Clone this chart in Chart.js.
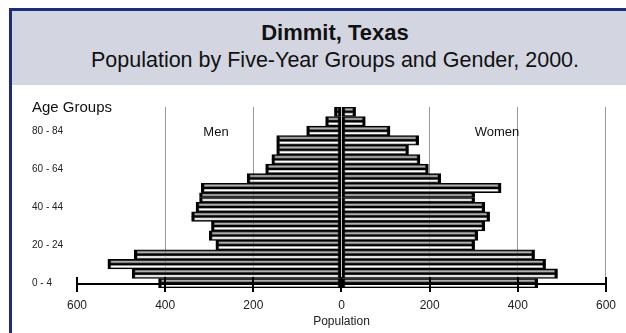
<!DOCTYPE html>
<html>
<head>
<meta charset="utf-8">
<title>Dimmit, Texas</title>
<script src="https://cdn.jsdelivr.net/npm/chart.js@4.4.1/dist/chart.umd.min.js"></script>
<style>
  body { margin: 0; width: 626px; height: 333px; overflow: hidden; background: #fff; position: relative;
         font-family: "Liberation Sans", Arial, sans-serif; color: #111; }
  #marco { position: absolute; left: 9px; top: 8px; width: 646px; height: 340px; border: 3px solid #1f2c7a; background: #fff; }
  #cabecera { position: absolute; left: 0; top: 0; width: 100%; height: 74px; background: #d3d5e1; }
  .linea { position: absolute; left: 0; width: 100%; text-align: center; line-height: 26px; }
  #titulo { top: 9px; font-size: 22px; font-weight: bold; }
  #subtitulo { top: 36px; font-size: 21.5px; }
  #caja { position: absolute; left: 12px; top: 85px; width: 614px; height: 248px; }
  .etiqueta { position: absolute; transform: translate(-50%, -50%); white-space: nowrap; font-size: 13px; }
  #edades { position: absolute; left: 32px; top: 98px; font-size: 15px; white-space: nowrap; }
</style>
</head>
<body>
<div id="marco">
  <div id="cabecera">
    <div class="linea" id="titulo">Dimmit, Texas</div>
    <div class="linea" id="subtitulo">Population by Five-Year Groups and Gender, 2000.</div>
  </div>
</div>
<div id="caja"><canvas id="grafico"></canvas></div>
<div id="edades">Age Groups</div>
<div class="etiqueta" style="left:216px; top:131px;">Men</div>
<div class="etiqueta" style="left:497px; top:131px;">Women</div>

<script>
// DATOS //
const grupos = ["0 - 4", "5 - 9", "10 - 14", "15 - 19", "20 - 24", "25 - 29", "30 - 34", "35 - 39", "40 - 44",
                "45 - 49", "50 - 54", "55 - 59", "60 - 64", "65 - 69", "70 - 74", "75 - 79", "80 - 84", "85 - 89", "90 +"];
const hombres = [415, 475, 530, 470, 285, 300, 295, 340, 330, 322, 318, 214, 172, 158, 147, 147, 79, 36, 16];
const mujeres = [445, 490, 463, 438, 302, 309, 325, 336, 325, 302, 362, 225, 197, 178, 152, 175, 110, 54, 32];
const ticksX = [-600, -400, -200, 0, 200, 400, 600];
const lineasX = [-400, -200, 200, 400, 600];

const graficoX = document.getElementById("grafico");
const gris = "rgba(130,130,130,0.65)";
const blanco = "rgba(255,255,255,0.55)";

Chart.defaults.font.family = '"Liberation Sans", Arial, sans-serif';
Chart.defaults.color = "#222";

// linea del eje con sus marcas, a la altura del grupo 0 - 4
const ejeCero = {
    id: "ejeCero",
    afterDatasetsDraw(chart) {
        const ctx = chart.ctx;
        const x = chart.scales.x;
        const yEje = Math.round(chart.scales.y.getPixelForValue(0)) + 1;
        ctx.save();
        ctx.strokeStyle = "#000";
        ctx.lineWidth = 2;
        ctx.beginPath();
        ctx.moveTo(x.getPixelForValue(ticksX[0]), yEje);
        ctx.lineTo(x.getPixelForValue(ticksX[ticksX.length - 1]), yEje);
        ticksX.forEach((v) => {
            const px = Math.round(x.getPixelForValue(v));
            ctx.moveTo(px, yEje - 7);
            ctx.lineTo(px, yEje + 8);
        });
        ctx.stroke();
        ctx.restore();
    }
};

// cada barra va en dos franjas (gris y blanca), como en la imagen original
function barra(valores, fondo, pila) {
    return {
        data: valores,
        stack: pila,
        backgroundColor: fondo,
        borderColor: "#000",
        borderWidth: { top: 1.3, bottom: 1.3, left: 3, right: 3 },
        borderSkipped: false,
        barPercentage: 1,
        categoryPercentage: 1
    };
}

const negativos = hombres.map((v) => -v);

new Chart(graficoX, {
    type: "bar",
    data: {
        labels: grupos,
        datasets: [
            barra(negativos, gris, "a"),
            barra(negativos, blanco, "b"),
            barra(mujeres, gris, "a"),
            barra(mujeres, blanco, "b")
        ]
    },
    options: {
        indexAxis: "y",
        responsive: true,
        maintainAspectRatio: false,
        animation: false,
        devicePixelRatio: 1,
        layout: { padding: { left: 20, right: 17, top: 22, bottom: 0 } },
        plugins: { legend: { display: false }, tooltip: { enabled: false } },
        scales: {
            x: {
                type: "linear",
                min: -600,
                max: 600,
                stacked: true,
                ticks: {
                    stepSize: 200,
                    maxRotation: 0,
                    padding: 10,
                    font: { size: 12 },
                    callback: (v) => Math.abs(v)
                },
                grid: {
                    drawTicks: false,
                    lineWidth: 1,
                    color: (c) => (c.tick && lineasX.includes(c.tick.value) ? "#999999" : "rgba(0,0,0,0)")
                },
                border: { display: false },
                title: { display: true, text: "Population", font: { size: 12 }, padding: { top: 0, bottom: 4 } },
                afterFit: (s) => { s.height = 45; }
            },
            y: {
                type: "category",
                reverse: true,
                grid: { display: false },
                border: { display: false },
                ticks: {
                    autoSkip: false,
                    crossAlign: "far",
                    padding: 0,
                    font: { size: 10 },
                    callback: function (v, i) { return i % 4 === 0 ? this.getLabelForValue(v) : ""; }
                },
                afterFit: (s) => { s.width = 45; }
            }
        }
    },
    plugins: [ejeCero]
});
</script>
</body>
</html>
